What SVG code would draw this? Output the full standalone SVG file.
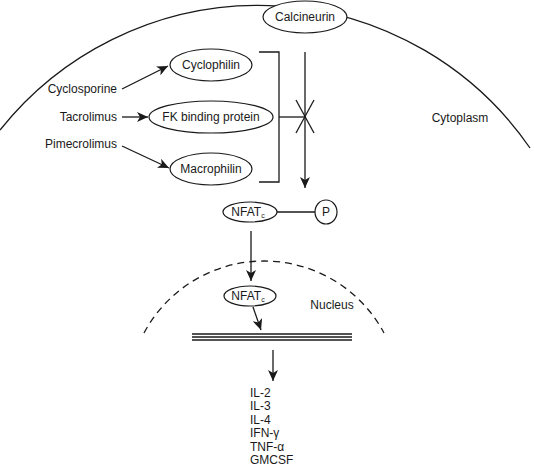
<svg xmlns="http://www.w3.org/2000/svg" width="534" height="470" viewBox="0 0 534 470">
<style>
text{font-family:"Liberation Sans",Arial,sans-serif;font-size:12px;fill:#1a1a1a}
.c{text-anchor:middle}
.r{text-anchor:end}
.n{fill:#fff;stroke:#1a1a1a;stroke-width:1.2}
.l{stroke:#1a1a1a;stroke-width:1.3;fill:none}
.sub{font-size:7px}
</style>
<defs>
<marker id="a" markerWidth="12" markerHeight="10" refX="11" refY="5" orient="auto" markerUnits="userSpaceOnUse">
<path d="M0,0 L11,5 L0,10 L3,5 Z" fill="#1a1a1a"/>
</marker>
</defs>
<g id="cell">
<path class="l" d="M0,130 A330,330 0 0 1 530,148"/>
<text x="460" y="122" class="c">Cytoplasm</text>
</g>
<g id="nucleus">
<path class="l" d="M144,333 A136,136 0 0 1 384,333" stroke-dasharray="7,5"/>
<text x="332" y="309" class="c">Nucleus</text>
</g>
<g id="connectors">
<line class="l" x1="122" y1="89" x2="168" y2="66" marker-end="url(#a)"/>
<line class="l" x1="122" y1="117" x2="148" y2="117" marker-end="url(#a)"/>
<line class="l" x1="122" y1="146" x2="169" y2="168" marker-end="url(#a)"/>
<polyline class="l" points="259,52 279,52 279,182 259,182"/>
<line class="l" x1="279" y1="117" x2="305" y2="117"/>
<line class="l" x1="305" y1="52" x2="305" y2="188" marker-end="url(#a)"/>
<line class="l" x1="296" y1="100" x2="314" y2="133"/>
<line class="l" x1="314" y1="100" x2="296" y2="133"/>
<line class="l" x1="277" y1="212" x2="315" y2="212"/>
<line class="l" x1="251" y1="231" x2="251" y2="281" marker-end="url(#a)"/>
<line class="l" x1="253" y1="307" x2="261" y2="330" marker-end="url(#a)"/>
<line class="l" x1="273" y1="350" x2="273" y2="381" marker-end="url(#a)"/>
</g>
<g id="dna">
<line class="l" x1="192" y1="334" x2="352" y2="334"/>
<line class="l" x1="192" y1="337" x2="352" y2="337"/>
<line class="l" x1="192" y1="340" x2="352" y2="340"/>
</g>
<g id="calcineurin"><ellipse class="n" cx="305" cy="17" rx="42" ry="16"/><text x="305" y="21" class="c">Calcineurin</text></g>
<g id="cyclophilin"><ellipse class="n" cx="211" cy="65" rx="41" ry="16"/><text x="211" y="69" class="c">Cyclophilin</text></g>
<g id="fkbp"><ellipse class="n" cx="211" cy="117" rx="62" ry="16"/><text x="211" y="121" class="c">FK binding protein</text></g>
<g id="macrophilin"><ellipse class="n" cx="211" cy="169" rx="41" ry="16"/><text x="211" y="173" class="c">Macrophilin</text></g>
<g id="cyclosporine"><text x="117" y="93" class="r">Cyclosporine</text></g>
<g id="tacrolimus"><text x="117" y="121" class="r">Tacrolimus</text></g>
<g id="pimecrolimus"><text x="117" y="148" class="r">Pimecrolimus</text></g>
<g id="nfat1"><ellipse class="n" cx="250" cy="212" rx="27" ry="10"/><text x="248" y="216" class="c">NFAT<tspan class="sub" dy="2">c</tspan></text></g>
<g id="p"><ellipse class="n" cx="326" cy="212" rx="11" ry="12"/><text x="326" y="216" class="c">P</text></g>
<g id="nfat2"><ellipse class="n" cx="250" cy="296" rx="26" ry="10"/><text x="248" y="300" class="c">NFAT<tspan class="sub" dy="2">c</tspan></text></g>
<g id="cytokines">
<text x="250" y="397">IL-2</text>
<text x="250" y="410">IL-3</text>
<text x="250" y="424">IL-4</text>
<text x="250" y="437">IFN-γ</text>
<text x="250" y="451">TNF-α</text>
<text x="250" y="464">GMCSF</text>
</g>
</svg>
